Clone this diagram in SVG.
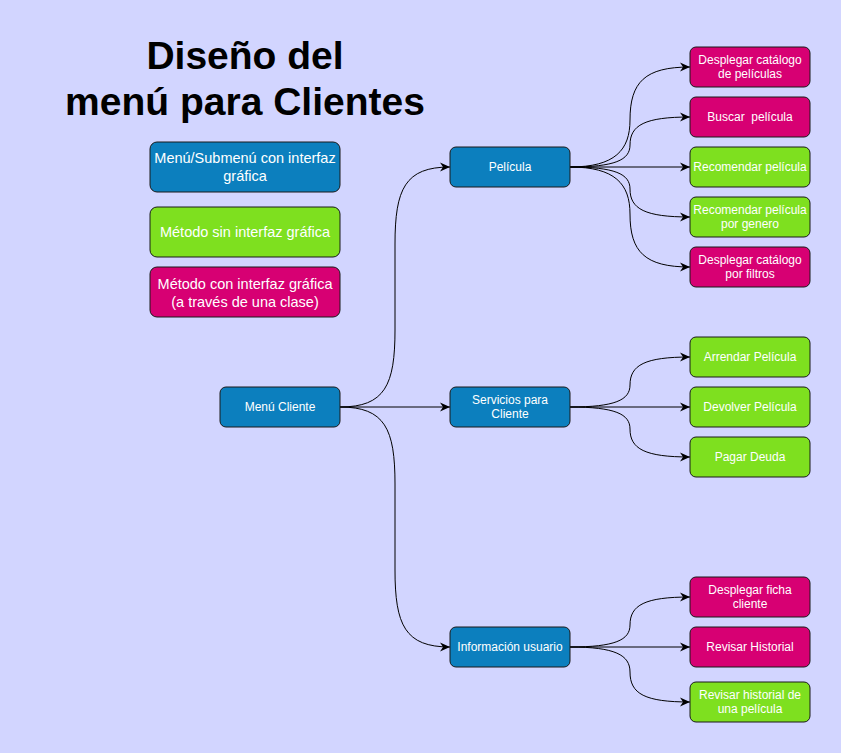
<svg xmlns="http://www.w3.org/2000/svg" width="841" height="753" viewBox="0 0 841 753">
<defs>
<marker id="arr" viewBox="0 0 10 10" refX="10" refY="5" markerWidth="10" markerHeight="10" markerUnits="userSpaceOnUse" orient="auto">
<path d="M0,0.5 L10,5 L0,9.5 L3,5 Z" fill="#000"/>
</marker>
<style>
.n rect{stroke:#1a1a1a;stroke-width:1;}
.blue rect{fill:#0C7FBE;}
.green rect{fill:#7EE01F;}
.pink rect{fill:#D70073;}
text{font-family:"Liberation Sans",Arial,sans-serif;fill:#fff;text-anchor:middle;}
.s{font-size:12px;}
.l{font-size:14.5px;}
.t{font-size:39px;font-weight:bold;fill:#000;}
#edges path{fill:none;stroke:#000;stroke-width:1;marker-end:url(#arr);}
</style>
</defs>
<rect width="841" height="753" fill="#D2D5FF"/>
<g id="title">
<text class="t" x="245" y="69">Diseño del</text>
<text class="t" x="245" y="115">menú para Clientes</text>
</g>
<g id="legend-submenu" class="n blue"><rect x="150" y="142" width="190" height="50" rx="7"/><text class="l" x="245" y="163">Menú/Submenú con interfaz</text><text class="l" x="245" y="181">gráfica</text></g>
<g id="legend-sin" class="n green"><rect x="150" y="207" width="190" height="50" rx="7"/><text class="l" x="245" y="237">Método sin interfaz gráfica</text></g>
<g id="legend-con" class="n pink"><rect x="150" y="267" width="190" height="50" rx="7"/><text class="l" x="245" y="289">Método con interfaz gráfica</text><text class="l" x="245" y="307">(a través de una clase)</text></g>

<g id="edges">
<path d="M340,407 C385,407 395,385 395,330 L395,244 C395,189 405,167 450,167"/>
<path d="M340,407 L450,407"/>
<path d="M340,407 C385,407 395,429 395,484 L395,570 C395,625 405,647 450,647"/>
<path d="M570,167 C615,167 630,150 630,120 C630,82 645,67 690,67"/>
<path d="M570,167 C615,167 630,160 630,145 C630,125 645,117 690,117"/>
<path d="M570,167 L690,167"/>
<path d="M570,167 C615,167 630,174 630,189 C630,209 645,217 690,217"/>
<path d="M570,167 C615,167 630,184 630,214 C630,252 645,267 690,267"/>
<path d="M570,407 C615,407 630,400 630,385 C630,365 645,357 690,357"/>
<path d="M570,407 L690,407"/>
<path d="M570,407 C615,407 630,414 630,429 C630,449 645,457 690,457"/>
<path d="M570,647 C615,647 630,640 630,625 C630,605 645,597 690,597"/>
<path d="M570,647 L690,647"/>
<path d="M570,647 C615,647 630,655 630,672 C630,694 645,702 690,702"/>
</g>

<g id="menu-cliente" class="n blue"><rect x="220" y="387" width="120" height="40" rx="6"/><text class="s" x="280" y="411">Menú Cliente</text></g>
<g id="pelicula" class="n blue"><rect x="450" y="147" width="120" height="40" rx="6"/><text class="s" x="510" y="171">Película</text></g>
<g id="servicios" class="n blue"><rect x="450" y="387" width="120" height="40" rx="6"/><text class="s" x="510" y="404">Servicios para</text><text class="s" x="510" y="418">Cliente</text></g>
<g id="info-usuario" class="n blue"><rect x="450" y="627" width="120" height="40" rx="6"/><text class="s" x="510" y="651">Información usuario</text></g>

<g id="desplegar-catalogo" class="n pink"><rect x="690" y="47" width="120" height="40" rx="6"/><text class="s" x="750" y="64">Desplegar catálogo</text><text class="s" x="750" y="78">de películas</text></g>
<g id="buscar-pelicula" class="n pink"><rect x="690" y="97" width="120" height="40" rx="6"/><text class="s" x="750" y="121" xml:space="preserve">Buscar  película</text></g>
<g id="recomendar-pelicula" class="n green"><rect x="690" y="147" width="120" height="40" rx="6"/><text class="s" x="750" y="171">Recomendar película</text></g>
<g id="recomendar-genero" class="n green"><rect x="690" y="197" width="120" height="40" rx="6"/><text class="s" x="750" y="214">Recomendar película</text><text class="s" x="750" y="228">por genero</text></g>
<g id="desplegar-filtros" class="n pink"><rect x="690" y="247" width="120" height="40" rx="6"/><text class="s" x="750" y="264">Desplegar catálogo</text><text class="s" x="750" y="278">por filtros</text></g>
<g id="arrendar" class="n green"><rect x="690" y="337" width="120" height="40" rx="6"/><text class="s" x="750" y="361">Arrendar Película</text></g>
<g id="devolver" class="n green"><rect x="690" y="387" width="120" height="40" rx="6"/><text class="s" x="750" y="411">Devolver Película</text></g>
<g id="pagar" class="n green"><rect x="690" y="437" width="120" height="40" rx="6"/><text class="s" x="750" y="461">Pagar Deuda</text></g>
<g id="ficha" class="n pink"><rect x="690" y="577" width="120" height="40" rx="6"/><text class="s" x="750" y="594">Desplegar ficha</text><text class="s" x="750" y="608">cliente</text></g>
<g id="historial" class="n pink"><rect x="690" y="627" width="120" height="40" rx="6"/><text class="s" x="750" y="651">Revisar Historial</text></g>
<g id="historial-pelicula" class="n green"><rect x="690" y="682" width="120" height="40" rx="6"/><text class="s" x="750" y="699">Revisar historial de</text><text class="s" x="750" y="713">una película</text></g>
</svg>
